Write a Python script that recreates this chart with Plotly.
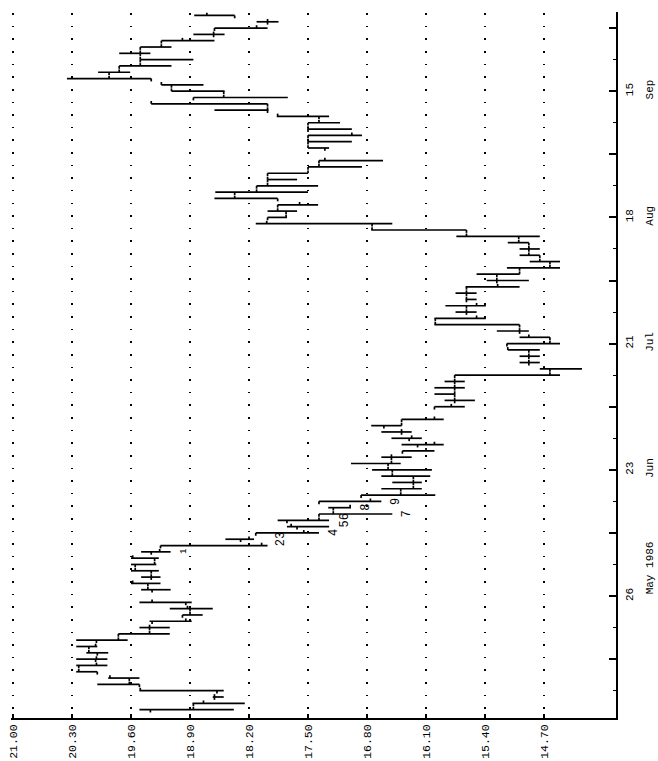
import numpy as np
import pandas as pd
import plotly.graph_objects as go

# ---- trading calendar (weekdays, exchange holidays removed) ----
holidays = ["1986-05-26", "1986-07-04", "1986-09-01"]
trade_dates = [d for d in pd.bdate_range("1986-04-30", "1986-10-01")
               if d.strftime("%Y-%m-%d") not in holidays]

# ---- daily prices ----
high = [
    19.50, 18.87, 18.63, 19.50, 20.00, 19.87, 20.25, 20.25, 20.25, 20.13, 20.25, 20.25, 19.75, 19.50, 19.38, 18.99, 19.14, 19.50,
    19.48, 19.60, 19.48, 19.60, 19.60, 19.60, 19.48, 19.25, 18.48, 18.12, 17.75, 17.86, 17.37, 17.26, 17.37, 16.87, 16.63, 16.50, 16.63,
    16.74, 16.99, 16.63, 16.38, 16.39, 16.51, 16.63, 16.75, 16.39,
    16.00, 15.88, 16.00, 16.00, 15.88, 15.76, 14.75, 14.99, 14.99, 15.13, 15.14, 14.99, 15.26, 16.00, 16.00, 15.75, 15.87, 15.63, 15.75, 15.63,
    15.38, 15.50, 15.14, 14.87, 14.99, 14.99, 15.13, 15.74, 16.75, 18.12, 17.98, 17.98, 17.86, 18.61, 18.60, 18.11, 17.98, 17.98, 17.50, 17.37,
    17.50, 17.50, 17.50, 17.50, 17.50, 17.87, 18.61, 19.36, 18.86, 19.12, 19.24, 20.36, 19.99, 19.74, 19.49, 19.74, 19.49, 19.24, 18.86, 18.61, 18.11, 18.85,
]
low = [
    18.38, 18.25, 18.50, 18.50, 19.50, 19.50, 20.00, 19.88, 19.88, 19.87, 20.00, 19.64, 19.14, 19.14, 18.88, 18.75, 18.63, 18.88,
    19.13, 19.25, 19.25, 19.27, 19.30, 19.27, 19.13, 17.98, 18.14, 17.37, 17.25, 17.25, 16.50, 16.99, 16.63, 15.99, 16.15, 16.15, 16.05,
    16.03, 16.40, 16.27, 16.00, 15.89, 16.15, 16.27, 16.39, 15.89,
    15.64, 15.52, 15.76, 15.64, 15.64, 14.51, 14.25, 14.75, 14.75, 14.75, 14.51, 14.63, 14.88, 14.99, 15.39, 15.50, 15.39, 15.50, 15.50, 14.99,
    14.88, 14.99, 14.51, 14.51, 14.75, 14.75, 14.88, 14.75, 15.62, 16.50, 17.75, 17.63, 17.38, 17.86, 17.50, 17.38, 17.63, 17.50, 16.86, 16.61,
    17.25, 16.98, 16.86, 16.98, 17.12, 17.25, 17.97, 17.98, 17.74, 18.49, 18.74, 19.36, 19.61, 19.12, 18.86, 19.37, 19.12, 18.61, 18.49, 17.98, 17.85, 18.37,
]
open_ = [
    19.37, 18.86, 18.61, 18.58, 19.50, 19.62, 20.00, 20.22, 20.02, 20.00, 20.10, 20.01, 19.75, 19.38, 19.35, 18.99, 18.90, 18.95,
    19.35, 19.40, 19.36, 19.36, 19.55, 19.32, 19.36, 19.25, 18.30, 18.12, 17.63, 17.75, 17.37, 17.20, 17.37, 16.87, 16.40, 16.25, 16.25,
    16.50, 16.55, 16.51, 16.38, 16.20, 16.30, 16.39, 16.60, 16.39,
    16.00, 15.76, 15.76, 15.76, 15.76, 15.76, 14.63, 14.88, 14.88, 14.88, 15.14, 14.63, 14.99, 14.99, 15.99, 15.62, 15.62, 15.62, 15.62, 15.62,
    15.26, 15.26, 14.99, 14.63, 14.75, 14.88, 14.88, 15.00, 15.62, 16.74, 17.98, 17.76, 17.86, 17.86, 18.37, 18.11, 17.98, 17.98, 17.50, 17.37,
    17.30, 17.50, 17.50, 17.50, 17.50, 17.37, 17.98, 17.98, 18.86, 18.50, 19.12, 19.36, 19.86, 19.74, 19.49, 19.49, 19.49, 19.24, 18.62, 18.61, 17.98, 18.37,
]
close = [
    18.86, 18.74, 18.61, 19.49, 19.62, 19.85, 20.22, 20.01, 20.01, 20.10, 20.02, 19.75, 19.38, 19.38, 18.95, 18.90, 18.93, 19.35,
    19.40, 19.58, 19.36, 19.55, 19.32, 19.58, 19.26, 18.05, 18.20, 17.55, 17.70, 17.37, 17.20, 17.00, 16.76, 16.40, 16.25, 16.25, 16.50,
    16.55, 16.51, 16.51, 16.10, 16.00, 16.27, 16.39, 16.39, 16.00,
    15.80, 15.76, 15.76, 15.76, 15.76, 14.63, 14.70, 14.88, 14.88, 15.13, 14.63, 14.88, 14.99, 15.99, 15.50, 15.62, 15.50, 15.62, 15.62, 15.25,
    15.26, 14.99, 14.63, 14.75, 14.88, 14.88, 15.00, 15.62, 16.74, 17.99, 17.76, 17.86, 17.60, 18.37, 18.11, 17.98, 17.98, 17.50, 17.37, 17.30,
    17.50, 17.50, 16.98, 17.50, 17.37, 17.86, 17.98, 19.36, 18.50, 19.12, 19.24, 19.86, 19.74, 19.49, 19.49, 19.49, 19.24, 18.99, 18.62, 18.11, 17.98, 18.70,
]

# ---- price axis ----
price_ticks = [21.00, 20.30, 19.60, 18.90, 18.20, 17.50, 16.80, 16.10, 15.40, 14.70]

# ---- date axis: Mondays carrying ticks / labels ----
major_tick_dates = ["1986-05-12", "1986-05-26", "1986-06-09", "1986-06-23", "1986-07-07", "1986-07-21",
                    "1986-08-04", "1986-08-18", "1986-09-01", "1986-09-15", "1986-09-29"]
minor_tick_dates = ["1986-05-05", "1986-05-19", "1986-06-02", "1986-06-16", "1986-06-30", "1986-07-14",
                    "1986-07-28", "1986-08-11", "1986-08-25", "1986-09-08", "1986-09-22"]
label_dates = ["1986-05-26", "1986-06-23", "1986-07-21", "1986-08-18", "1986-09-15"]
month_labels = ["May 1986", "Jun", "Jul", "Aug", "Sep"]

# ---- annotated counts ----
count_text = ["1", "23", "4", "56", "8", "9", "7"]
count_price = [18.97, 17.82, 17.19, 17.06, 16.81, 16.45, 16.33]
count_date = ["1986-06-04", "1986-06-06", "1986-06-09", "1986-06-11", "1986-06-13", "1986-06-16", "1986-06-12"]

ANCHOR = np.datetime64("1986-05-26")


def slot(d):
    """Weekday index relative to Monday 26 May 1986 (weekends collapsed)."""
    return int(np.busday_count(ANCHOR, np.datetime64(pd.Timestamp(d).date())))


slots = [slot(d) for d in trade_dates]
TICK = 0.45

xs, ys = [], []
for s, h, l, o, c in zip(slots, high, low, open_, close):
    xs += [h, l, None, o, o, None, c, c, None]
    ys += [s, s, None, s, s - TICK, None, s, s + TICK, None]

FONT = "Liberation Mono, Courier New, monospace"

fig = go.Figure()
fig.add_trace(go.Scatter(x=xs, y=ys, mode="lines",
                         line=dict(color="black", width=1.7),
                         hoverinfo="skip", showlegend=False))
fig.add_trace(go.Scatter(x=[None], y=[None], yaxis="y2", showlegend=False, hoverinfo="skip"))

major_slots = [slot(d) for d in major_tick_dates]
label_slots = [slot(d) for d in label_dates]
day_text = [str(pd.Timestamp(d).day) if d in label_dates else "" for d in major_tick_dates]
month_text = month_labels[:]
month_text[0] = "\u00a0" * 8 + month_text[0]

yrange = [-19.33, 92.55]

for t, p, d in zip(count_text, count_price, count_date):
    fig.add_annotation(x=p, y=slot(d), text=t, showarrow=False, textangle=-90,
                       font=dict(family=FONT, size=9 if t == "1" else 12, color="black"))

fig.update_layout(
    width=658, height=761,
    margin=dict(l=11, r=42, t=12, b=43, autoexpand=False),
    paper_bgcolor="white", plot_bgcolor="white",
    font=dict(family=FONT, color="black", size=12),
    xaxis=dict(
        range=[21.0237, 13.846], tickvals=price_ticks,
        ticktext=[f"{v:.2f}" for v in price_ticks], tickangle=-90,
        ticks="inside", ticklen=4, tickwidth=1.5, tickcolor="black",
        showline=True, linecolor="black", linewidth=1.5,
        showgrid=True, gridcolor="black", gridwidth=1.6,
        griddash="0px,1.2px,1.6px,9.82px",
        zeroline=False, ticklabelstandoff=0, automargin=False,
        tickfont=dict(family=FONT, size=11.5),
    ),
    yaxis=dict(
        range=yrange, side="right", tickvals=major_slots, ticktext=day_text,
        tickangle=-90, ticks="inside", ticklen=7, tickwidth=1.5, tickcolor="black",
        minor=dict(tickvals=[slot(d) for d in minor_tick_dates], ticks="inside",
                   ticklen=3, tickwidth=1.2, tickcolor="black", showgrid=False),
        showline=True, linecolor="black", linewidth=1.5,
        showgrid=False, zeroline=False, ticklabelstandoff=2, automargin=False,
        tickfont=dict(family=FONT, size=11),
    ),
    yaxis2=dict(
        range=yrange, overlaying="y", side="right", anchor="x",
        tickvals=label_slots, ticktext=month_text, tickangle=-90,
        ticks="", showline=False, showgrid=False, zeroline=False,
        ticklabelstandoff=25, automargin=False,
        tickfont=dict(family=FONT, size=11),
    ),
)

fig.write_html("out.html")
